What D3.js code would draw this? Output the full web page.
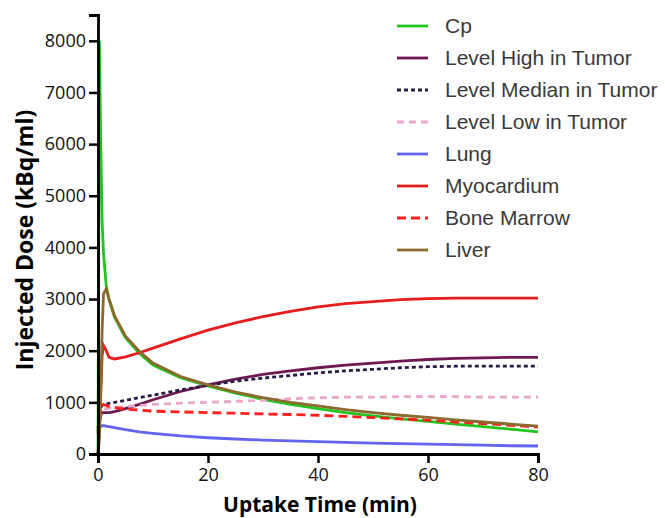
<!DOCTYPE html>
<meta charset="utf-8">
<script src="https://d3js.org/d3.v7.min.js"></script>
<style>
body { margin: 0; background: #fff; }
svg { font-family: "Open Sans", sans-serif; }
.tick text { font-size: 18px; fill: #111; }
.legend text { font-family: "Liberation Sans", Arial, sans-serif; font-size: 21px; fill: #3a3a3a; }
.title { font-weight: bold; fill: #000; }
</style>
<body>
<div id="chart"></div>
<script>
// uptake time (min)
var times = [0, 0.25, 0.5, 0.75, 1, 1.5, 2, 3, 5, 7.5, 10, 15, 20, 25, 30, 35, 40, 45, 50, 55, 60, 65, 70, 75, 80];

var names = ["Cp", "Level High in Tumor", "Level Median in Tumor", "Level Low in Tumor",
             "Lung", "Myocardium", "Bone Marrow", "Liver"];

var cp          = [0, 8000, 6000, 4500, 3900, 3250, 3000, 2650, 2250, 1950, 1720, 1480, 1320, 1180, 1060, 960, 880, 800, 740, 680, 630, 580, 530, 480, 430];
var levelHigh   = [450, 600, 750, 800, 800, 800, 800, 820, 880, 960, 1050, 1210, 1340, 1450, 1540, 1610, 1670, 1720, 1760, 1800, 1830, 1850, 1860, 1870, 1870];
var levelMedian = [500, 700, 900, 940, 960, 970, 980, 1000, 1040, 1090, 1140, 1240, 1330, 1410, 1470, 1520, 1570, 1610, 1640, 1670, 1690, 1700, 1700, 1700, 1700];
var levelLow    = [450, 650, 820, 860, 870, 880, 890, 900, 920, 940, 960, 985, 1000, 1020, 1040, 1070, 1090, 1100, 1100, 1110, 1110, 1110, 1100, 1100, 1100];
var lung        = [400, 480, 530, 550, 550, 540, 530, 510, 470, 430, 400, 350, 315, 290, 270, 255, 240, 225, 210, 200, 190, 180, 170, 160, 155];
var myocardium  = [0, 500, 1200, 1900, 2100, 2000, 1870, 1840, 1880, 1960, 2050, 2230, 2400, 2540, 2660, 2760, 2850, 2910, 2950, 2990, 3010, 3020, 3020, 3020, 3020];
var boneMarrow  = [400, 700, 900, 950, 960, 940, 920, 900, 870, 850, 830, 815, 800, 790, 775, 765, 750, 730, 705, 680, 655, 620, 590, 555, 520];
var liver       = [0, 300, 1200, 2400, 3100, 3200, 3000, 2680, 2280, 1990, 1760, 1500, 1340, 1200, 1090, 1000, 930, 860, 800, 750, 710, 660, 620, 580, 540];

var xTicks = [0, 20, 40, 60, 80];
var yTicks = [0, 1000, 2000, 3000, 4000, 5000, 6000, 7000, 8000];

var colors = ["#22c41e", "#6e1a50", "#2a1d45", "#eaa6cc", "#6464f0", "#e81c1c", "#ff1e1e", "#8c6a2e"];
var dashes = [null, null, "4,3", "7,5", null, null, "9,5", null];

var series = names.map(function(n, i) {
  var v = [cp, levelHigh, levelMedian, levelLow, lung, myocardium, boneMarrow, liver][i];
  return { name: n, color: colors[i], dash: dashes[i],
           values: times.map(function(t, j) { return { t: t, v: v[j] }; }) };
});

var width = 665, height = 518;
var plotLeft = 98, plotRight = 538, plotTop = 15, plotBottom = 454;

var svg = d3.select("#chart").append("svg")
  .attr("width", width)
  .attr("height", height);

var x = d3.scaleLinear().domain([0, 80]).range([plotLeft, plotRight]);
var y = d3.scaleLinear().domain([0, 8500]).range([plotBottom, plotTop]);

var line = d3.line()
  .x(function(d) { return x(d.t); })
  .y(function(d) { return y(d.v); });

svg.append("g").selectAll("path")
  .data(series).enter()
  .append("path")
    .attr("d", function(d) { return line(d.values); })
    .attr("fill", "none")
    .attr("stroke", function(d) { return d.color; })
    .attr("stroke-width", 2.8)
    .attr("stroke-dasharray", function(d) { return d.dash; });

var xAxis = svg.append("g")
  .attr("transform", "translate(0," + plotBottom + ")")
  .call(d3.axisBottom(x).tickValues(xTicks).tickFormat(d3.format("d")).tickSize(9).tickPadding(5));
var yAxis = svg.append("g")
  .attr("transform", "translate(" + plotLeft + ",0)")
  .call(d3.axisLeft(y).tickValues(yTicks).tickFormat(d3.format("d")).tickSize(9).tickPadding(3));

[xAxis, yAxis].forEach(function(a) {
  a.attr("font-family", null).attr("font-size", null);
  a.select(".domain").attr("stroke", "#000").attr("stroke-width", 2.8);
  a.selectAll(".tick line").attr("stroke", "#000").attr("stroke-width", 2.5);
});

svg.append("text")
  .attr("class", "title")
  .attr("font-size", 21)
  .attr("text-anchor", "middle")
  .attr("x", 320)
  .attr("y", 512)
  .text("Uptake Time (min)");

svg.append("text")
  .attr("class", "title")
  .attr("font-size", 23)
  .attr("text-anchor", "middle")
  .attr("transform", "translate(33,240) rotate(-90)")
  .text("Injected Dose (kBq/ml)");

var legend = svg.append("g").attr("class", "legend");
var rows = legend.selectAll("g")
  .data(series).enter()
  .append("g")
    .attr("transform", function(d, i) { return "translate(397," + (26 + i * 32) + ")"; });

rows.append("line")
  .attr("x1", 0).attr("x2", 31)
  .attr("stroke", function(d) { return d.color; })
  .attr("stroke-width", 2.8)
  .attr("stroke-dasharray", function(d) { return d.dash; });

rows.append("text")
  .attr("x", 48)
  .attr("dy", "0.35em")
  .text(function(d) { return d.name; });
</script>
</body>
